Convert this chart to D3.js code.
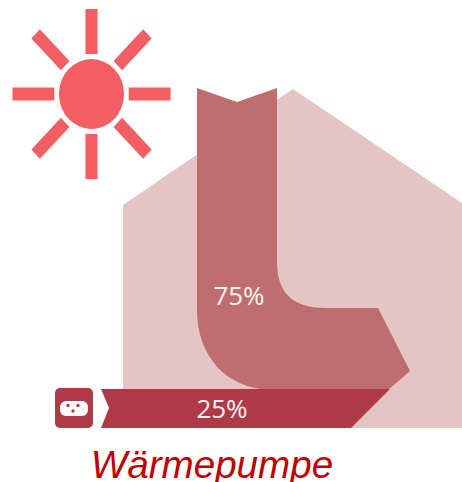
<!DOCTYPE html>
<html lang="de">
<head>
    <meta charset="UTF-8">
    <title>Wärmepumpe</title>
    <script src="https://d3js.org/d3.v7.min.js"></script>
    <style>
        html, body { margin: 0; padding: 0; background: #fff; overflow: hidden; }
        svg { display: block; }
    </style>
</head>
<body>
    <svg width="462" height="482"></svg>

    <script>
        const chartTitle = "Wärmepumpe";
        const shareLabels = ["Umwelt", "Strom"];
        const shareValues = [75, 25];
        const rayAngles = [0, 45, 90, 135, 180, 225, 270, 315];

        const svg = d3.select("svg");

        const line = d3.line();

        // house outline
        svg.append("path")
            .attr("d", line([[123, 428], [123, 205], [293, 89], [462, 203], [462, 428]]) + "Z")
            .attr("fill", "#e4c5c4");

        // ambient heat arrow
        const arrow = d3.path();
        arrow.moveTo(197, 88);
        arrow.lineTo(237, 102);
        arrow.lineTo(277, 88);
        arrow.lineTo(277, 262);
        arrow.bezierCurveTo(277, 292, 292, 308, 325, 308);
        arrow.lineTo(378, 308);
        arrow.lineTo(410, 371);
        arrow.lineTo(388, 390);
        arrow.lineTo(270, 390);
        arrow.bezierCurveTo(225, 388, 197, 355, 197, 310);
        arrow.closePath();
        svg.append("path").attr("d", arrow.toString()).attr("fill", "#bf6d6e");

        // electricity band
        svg.append("path")
            .attr("d", line([[101, 389], [390, 389], [351, 428], [101, 428], [109, 408]]) + "Z")
            .attr("fill", "#ae3a48");

        // plug icon
        svg.append("rect")
            .attr("x", 55).attr("y", 388)
            .attr("width", 38).attr("height", 40)
            .attr("rx", 5)
            .attr("fill", "#ae3a48");
        svg.append("rect")
            .attr("x", 60).attr("y", 401)
            .attr("width", 28).attr("height", 15)
            .attr("rx", 6)
            .attr("fill", "#fff");
        svg.selectAll(".pin")
            .data([[68, 405.5], [78, 405.5], [73, 411]])
            .enter().append("circle")
            .attr("class", "pin")
            .attr("cx", d => d[0])
            .attr("cy", d => d[1])
            .attr("r", 1.7)
            .attr("fill", "#ae3a48");

        // sun, slightly squeezed like the original artwork
        const sun = svg.append("g").attr("transform", "translate(91.5,94) scale(0.93,1)");
        sun.append("circle").attr("r", 35).attr("fill", "#f35e65");
        sun.selectAll(".ray")
            .data(rayAngles)
            .enter().append("rect")
            .attr("class", "ray")
            .attr("x", -6.5)
            .attr("y", -85)
            .attr("width", 13)
            .attr("height", 45)
            .attr("fill", "#f35e65")
            .attr("transform", d => `rotate(${d})`);

        // share labels
        const labelPos = [[239, 305], [222, 418]];
        svg.selectAll(".share")
            .data(shareValues)
            .enter().append("text")
            .attr("class", "share")
            .attr("x", (d, i) => labelPos[i][0])
            .attr("y", (d, i) => labelPos[i][1])
            .attr("text-anchor", "middle")
            .attr("font-family", "'Open Sans', sans-serif")
            .attr("font-size", 26)
            .attr("fill", "#fbf3ee")
            .text(d => `${d}%`);

        svg.append("text")
            .attr("x", 212)
            .attr("y", 477.5)
            .attr("text-anchor", "middle")
            .attr("font-family", "'Liberation Sans', Arial, sans-serif")
            .attr("font-style", "italic")
            .attr("font-size", 38.6)
            .attr("fill", "#c00000")
            .text(chartTitle);
    </script>
</body>
</html>
